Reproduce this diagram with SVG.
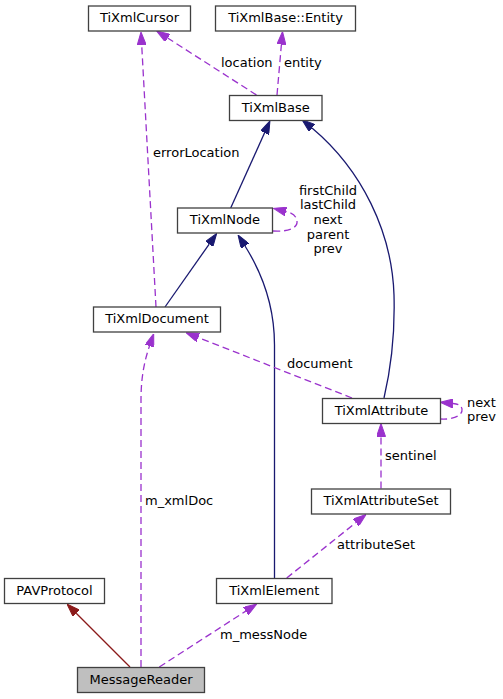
<svg xmlns="http://www.w3.org/2000/svg" width="503" height="699" viewBox="0 0 503 699">
<style>
text{font-family:"DejaVu Sans","Liberation Sans",sans-serif;font-size:13px;fill:#000}
.node rect{fill:#fff;stroke:#404040;stroke-width:1.3}
.node text{text-anchor:middle}
.inh{fill:none;stroke:#191970;stroke-width:1.3}
.use{fill:none;stroke:#9a32cd;stroke-width:1.3;stroke-dasharray:7,4}
.red{fill:none;stroke:#8b1a1a;stroke-width:1.3}
</style>
<defs>
<marker id="aNavy" markerUnits="userSpaceOnUse" viewBox="0 0 13 9" markerWidth="13" markerHeight="9" refX="0" refY="4.5" orient="auto"><path d="M0,0 L13,4.5 L0,9 z" fill="#191970" stroke="#191970" stroke-width="1"/></marker>
<marker id="aPurple" markerUnits="userSpaceOnUse" viewBox="0 0 13 9" markerWidth="13" markerHeight="9" refX="0" refY="4.5" orient="auto"><path d="M0,0 L13,4.5 L0,9 z" fill="#9a32cd" stroke="#9a32cd" stroke-width="1"/></marker>
<marker id="aRed" markerUnits="userSpaceOnUse" viewBox="0 0 13 9" markerWidth="13" markerHeight="9" refX="0" refY="4.5" orient="auto"><path d="M0,0 L13,4.5 L0,9 z" fill="#8b1a1a" stroke="#8b1a1a" stroke-width="1"/></marker>
</defs>
<rect width="503" height="699" fill="#fff"/>
<g id="connectors">
<path class="use" d="M256.5,95 L167.6,38" marker-end="url(#aPurple)"/>
<text x="221" y="67">location</text>
<path class="use" d="M277,95 L281.4,44.5" marker-end="url(#aPurple)"/>
<text x="284" y="67">entity</text>
<path class="use" d="M156,307 L141.7,45" marker-end="url(#aPurple)"/>
<text x="153" y="156.5">errorLocation</text>
<path class="inh" d="M230.7,208 L264.6,132.8" marker-end="url(#aNavy)"/>
<path class="inh" d="M384,398 C391,368 395,330 394,295 C392,232 362,170 312,128" marker-end="url(#aNavy)"/>
<path class="use" d="M273,231 C288,232 298,228 297,221 C296,215 292,213 286,211.5" marker-end="url(#aPurple)"/>
<text x="328" y="194.5" text-anchor="middle">firstChild</text>
<text x="328" y="209" text-anchor="middle">lastChild</text>
<text x="328" y="223.5" text-anchor="middle">next</text>
<text x="328" y="238.5" text-anchor="middle">parent</text>
<text x="328" y="253" text-anchor="middle">prev</text>
<path class="inh" d="M165,307 L209.2,244.1" marker-end="url(#aNavy)"/>
<path class="inh" d="M274.5,578 L274.5,345 C274.5,305 262,273 245,246" marker-end="url(#aNavy)"/>
<path class="use" d="M352,398 L198.2,337.5" marker-end="url(#aPurple)"/>
<text x="287" y="367.5">document</text>
<path class="use" d="M440,419 C452,420 463,416 462,409 C461,405 458,404 453,403.5" marker-end="url(#aPurple)"/>
<text x="481.5" y="406.7" text-anchor="middle">next</text>
<text x="481.5" y="420.5" text-anchor="middle">prev</text>
<path class="use" d="M381,488.5 L381,436.5" marker-end="url(#aPurple)"/>
<text x="385" y="460">sentinel</text>
<path class="use" d="M286.7,578 L355.9,522.6" marker-end="url(#aPurple)"/>
<text x="337" y="549">attributeSet</text>
<path class="red" d="M130,667 L76.2,613.2" marker-end="url(#aRed)"/>
<path class="use" d="M141,667 L141,400 C141,382 143,365 149.5,346" marker-end="url(#aPurple)"/>
<text x="145" y="505">m_xmlDoc</text>
<path class="use" d="M159.3,667 L245.8,611.1" marker-end="url(#aPurple)"/>
<text x="220" y="638.5">m_messNode</text>
</g>
<g id="TiXmlCursor" class="node"><rect x="88.5" y="6" width="102" height="25"/><text x="139.5" y="22.3">TiXmlCursor</text></g>
<g id="TiXmlBaseEntity" class="node"><rect x="215.5" y="6" width="140" height="25"/><text x="285.5" y="22.3">TiXmlBase::Entity</text></g>
<g id="TiXmlBase" class="node"><rect x="229.5" y="95.5" width="92.5" height="25"/><text x="275.75" y="111.8">TiXmlBase</text></g>
<g id="TiXmlNode" class="node"><rect x="177.5" y="208" width="95" height="25"/><text x="225" y="224.3">TiXmlNode</text></g>
<g id="TiXmlDocument" class="node"><rect x="93.5" y="307" width="127" height="25"/><text x="157" y="323.3">TiXmlDocument</text></g>
<g id="TiXmlAttribute" class="node"><rect x="322.5" y="398.5" width="118" height="25"/><text x="381.5" y="414.8">TiXmlAttribute</text></g>
<g id="TiXmlAttributeSet" class="node"><rect x="311.5" y="489" width="139" height="25"/><text x="381" y="505.3">TiXmlAttributeSet</text></g>
<g id="PAVProtocol" class="node"><rect x="4.5" y="578.5" width="100" height="25"/><text x="54.5" y="594.8">PAVProtocol</text></g>
<g id="TiXmlElement" class="node"><rect x="216.5" y="578.5" width="115.5" height="25"/><text x="274.25" y="594.8">TiXmlElement</text></g>
<g id="MessageReader" class="node"><rect x="77.5" y="667.5" width="127" height="25" style="fill:#bfbfbf"/><text x="141" y="683.5">MessageReader</text></g>
</svg>
